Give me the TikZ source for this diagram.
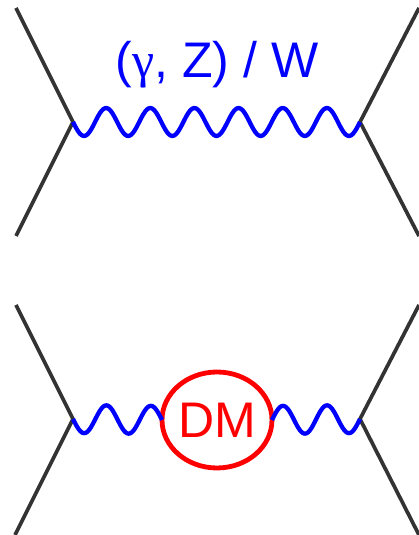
\documentclass[tikz,border=0pt]{standalone}
\usepackage{fontspec}
\setmainfont{Liberation Sans}
\newfontfamily\gammafont{Liberation Serif}
\usetikzlibrary{shapes.geometric,calc}
\definecolor{leg}{HTML}{333333}
\tikzset{
  legline/.style={draw=leg,line width=3.7pt},
  wave/.style={draw=blue,line width=4.3pt,line join=round},
  lbl/.style={inner sep=0pt,font=\fontsize{50}{54}\selectfont},
  blob/.style={ellipse,draw=red,line width=4.8pt,inner sep=0pt,outer sep=0pt,minimum width=109pt,minimum height=96pt,text=red,font=\fontsize{50}{54}\selectfont}
}
\newcommand{\wavebetween}[4]{% from, to, cycles, sign
  \draw[wave] let \p1=(#1),\p2=(#2) in
    plot[variable=\t,domain=0:#3,samples=160,smooth]
    ({\x1+\t*(\x2-\x1)/#3},{\y1+(\y2-\y1)*\t/#3+#4*14pt*sin(360*\t)});
}
\begin{document}
\begin{tikzpicture}[x=1pt,y=1pt]
\useasboundingbox (0,0) rectangle (419,535);
\clip (0,0) rectangle (419,535);
% top diagram (y measured up from the bottom of the page)
\coordinate (tl) at (73,413);
\coordinate (tr) at (360,413);
\coordinate (ta) at (16,527);
\coordinate (tb) at (16,299);
\coordinate (tc) at (419,527);
\coordinate (td) at (419,299);
\draw[legline] (ta) -- (tl) -- (tb);
\draw[legline] (tc) -- (tr) -- (td);
\wavebetween{tl}{tr}{6.5}{-1}
\node[lbl,text=blue] (toplabel) at (217,470) {({\gammafont γ}, Z) / W};
% bottom diagram
\coordinate (bl) at (73,116);
\coordinate (br) at (360,116);
\coordinate (ba) at (16,230);
\coordinate (bb) at (15,0);
\coordinate (bc) at (419,230);
\coordinate (bd) at (419,0);
\draw[legline] (ba) -- (bl) -- (bb);
\draw[legline] (bc) -- (br) -- (bd);
\node[blob] (dm) at (217,115) {\raisebox{-1pt}{DM}};
\wavebetween{bl}{dm.west}{2}{-1}
\wavebetween{dm.east}{br}{2}{1}
\end{tikzpicture}
\end{document}
